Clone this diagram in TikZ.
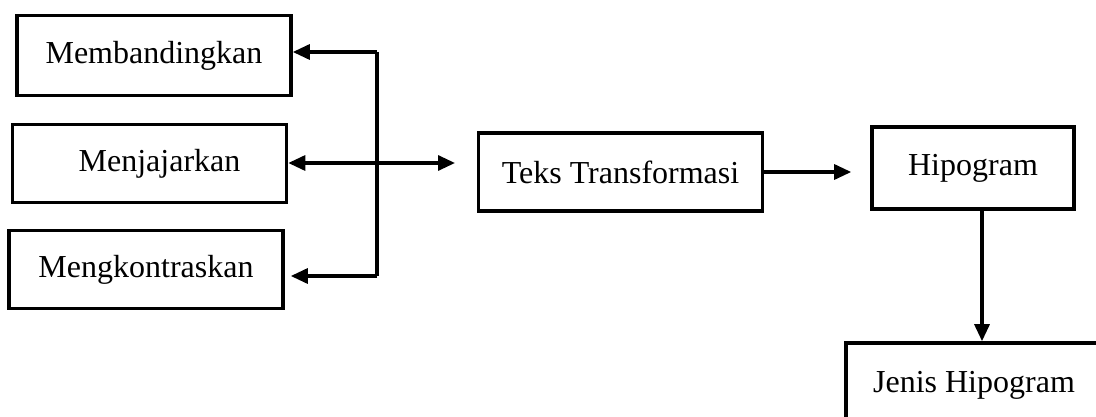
\documentclass[tikz,border=0pt]{standalone}
\usepackage{fontspec}
\setmainfont{Liberation Serif}
\usetikzlibrary{positioning, arrows.meta}

\begin{document}
\begin{tikzpicture}[
    x=0.5pt, y=-0.5pt,
    >={Triangle[length=8.5pt, width=7.5pt]},
    line width=1.6pt,
    box/.style={draw, rectangle, line width=1.8pt, minimum height=39pt, align=center, font=\fontsize{16}{19}\selectfont},
    link/.style={line width=1.6pt}
]

% -------------------------
% Page
% -------------------------
\useasboundingbox (0,0) rectangle (1096,417);
\clip (0,0) rectangle (1096,417);

% -------------------------
% Left Column
% -------------------------
\node[box, minimum width=137pt, minimum height=40pt] (Banding) at (154,55.5) {Membandingkan};
\node[box, minimum width=137pt] (Jajar) at (149.5,163.5) {\hspace*{10pt}Menjajarkan};
\node[box, minimum width=137pt] (Kontras) at (146,269.5) {Mengkontraskan};

% -------------------------
% Middle and Right Boxes
% -------------------------
\node[box, minimum width=142pt] (Teks) at (620.5,172) {Teks Transformasi};
\node[box, minimum width=101pt, minimum height=41pt] (Hipo) at (973,168) {Hipogram};
\node[box, minimum width=128pt, minimum height=42pt] (Jenis) at (974,385) {Jenis Hipogram};

% -------------------------
% Junction Points
% -------------------------
\coordinate (JTop) at (377,52);
\coordinate (JBot) at (377,276);
\coordinate (JMid) at (377,163);
\coordinate (TeksIn) at (455,163);

% -------------------------
% Links
% -------------------------
\draw[link, ->] (JTop) -- (Banding.east |- JTop);
\draw[link] (JTop) -- (JBot);
\draw[link, ->, shorten >=3pt] (JBot) -- (Kontras.east |- JBot);
\draw[link, <->] (Jajar.east |- JMid) -- (TeksIn);

\draw[link, ->, shorten >=9.5pt] (Teks.east) -- (Hipo.west |- Teks.east);
\draw[link, ->] ([xshift=4.5pt]Hipo.south) -- ([xshift=4.5pt]Hipo.south |- Jenis.north);

\end{tikzpicture}
\end{document}
